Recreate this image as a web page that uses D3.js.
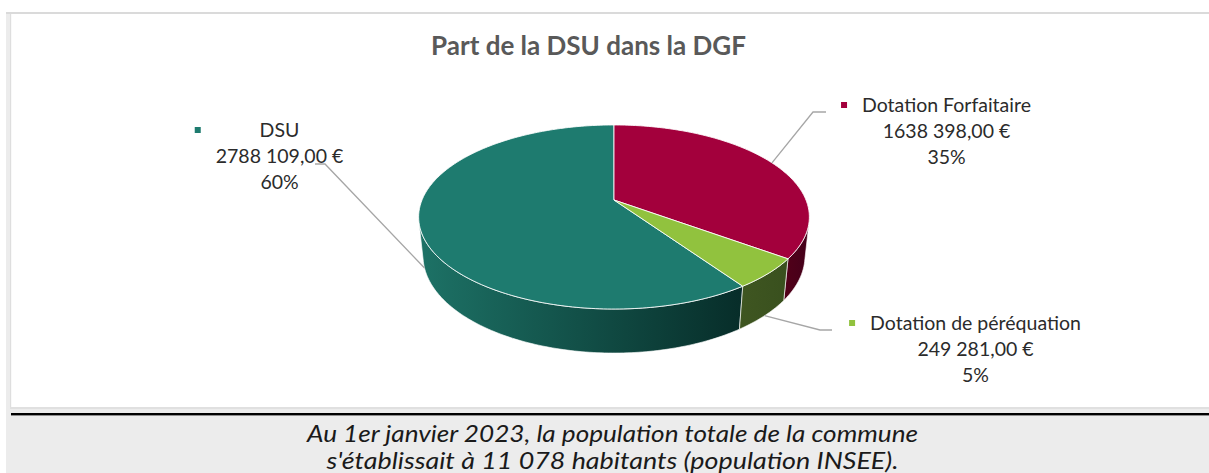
<!DOCTYPE html>
<html><head><meta charset="utf-8">
<script src="https://cdn.jsdelivr.net/npm/d3@7"></script>
<style>
html,body{margin:0;padding:0;background:#fff;}
svg{display:block;}
text{font-family:Lato,"Open Sans",sans-serif;}
</style></head><body>
<svg id="chart" width="1209" height="473"></svg>
<script>
// ---------- data ----------
const categories = ["DSU", "Dotation Forfaitaire", "Dotation de péréquation"];
const values = [2788109, 1638398, 249281];
const topColors = ["#1e7b6f", "#a3003c", "#91c23e"];
const sideColors = [["#1d7266", "#072d29"], ["#520019", "#44001a"], ["#3f5621", "#39501e"]];
const chartTitle = "Part de la DSU dans la DGF";
const noteLines = ["Au 1er janvier 2023, la population totale de la commune",
                   "s'établissait à 11 078 habitants (population INSEE)."];

// ---------- layout ----------
const W = 1209, H = 473;
const svg = d3.select("#chart");
const defs = svg.append("defs");

// backgrounds
svg.append("rect").attr("x", 6).attr("y", 12).attr("width", W - 6).attr("height", H - 12).attr("fill", "#ececec");
svg.append("rect").attr("x", 11).attr("y", 14).attr("width", W - 11).attr("height", 393).attr("fill", "#ffffff");
svg.append("rect").attr("x", 6).attr("y", 12).attr("width", W - 6).attr("height", 2).attr("fill", "#dadada");
svg.append("rect").attr("x", 10).attr("y", 14).attr("width", 1.2).attr("height", 394).attr("fill", "#dedede");
svg.append("rect").attr("x", 10).attr("y", 407).attr("width", W - 10).attr("height", 2).attr("fill", "#e0e0e0");
svg.append("rect").attr("x", 11).attr("y", 413).attr("width", W - 11).attr("height", 2.4).attr("fill", "#000000");

// title
svg.append("text").attr("x", 588.5).attr("y", 55).attr("text-anchor", "middle")
  .attr("font-size", 26).attr("font-weight", "bold").attr("fill", "#595959").text(chartTitle);

// ---------- 3D pie ----------
const total = d3.sum(values);
const start = 2 * Math.PI * (1 - values[0] / total);
const arcs = d3.pie().sort(null).value(d => d).startAngle(start).endAngle(start + 2 * Math.PI)(values);

const cx = 614, cy = 200, R = 192, D = 4.8, depth = 0.231;
const alpha = Math.asin(0.463), sa = Math.sin(alpha), ca = Math.cos(alpha);
function project(phi, r, z) {
  const x = r * Math.sin(phi), y = r * Math.cos(phi);
  const up = z * ca + y * sa, w = y * ca - z * sa;
  const s = D / (D + w);
  return [cx + R * x * s, cy - R * up * s];
}
const samples = (a, b, n) => d3.range(n + 1).map(i => a + (b - a) * i / n);
const line = d3.line();
const phiR = Math.acos(-1 / (D * ca));
function visibleRange(a, b) {
  for (const k of [-1, 0, 1, 2]) {
    const lo = Math.max(a, phiR + 2 * Math.PI * k), hi = Math.min(b, 2 * Math.PI - phiR + 2 * Math.PI * k);
    if (hi > lo) return [lo, hi];
  }
  return null;
}

// side gradients
sideColors.forEach((c, i) => {
  const g = defs.append("linearGradient").attr("id", "side" + i).attr("x1", 0).attr("x2", 1).attr("y1", 0).attr("y2", 0);
  g.append("stop").attr("offset", 0).attr("stop-color", c[0]);
  g.append("stop").attr("offset", 1).attr("stop-color", c[1]);
});

// sides
const gSide = svg.append("g");
arcs.forEach((a, i) => {
  const r = visibleRange(a.startAngle, a.endAngle);
  if (!r) return;
  const n = Math.max(4, Math.ceil((r[1] - r[0]) * 60));
  const angs = samples(r[0], r[1], n);
  const pts = angs.map(p => project(p, 1, 0)).concat(angs.slice().reverse().map(p => project(p, 1, -depth)));
  gSide.append("path").attr("d", line(pts) + "Z").attr("fill", "url(#side" + i + ")")
    .attr("stroke", "#ffffff").attr("stroke-width", 0.8).attr("stroke-opacity", 0.8);
});

// top face
const gTop = svg.append("g");
arcs.forEach((a, i) => {
  const n = Math.max(4, Math.ceil((a.endAngle - a.startAngle) * 60));
  const pts = [project(0, 0, 0)].concat(samples(a.startAngle, a.endAngle, n).map(p => project(p, 1, 0)));
  gTop.append("path").attr("d", line(pts) + "Z").attr("fill", topColors[i])
    .attr("stroke", "#ffffff").attr("stroke-width", 1).attr("stroke-opacity", 0.85).attr("stroke-linejoin", "round");
});

// ---------- labels ----------
const labelPos = [
  {x: 279.5, y: 137, elbow: [325, 164], tail: [315, 164]},
  {x: 946.5, y: 112, elbow: [813, 112], tail: [826, 112]},
  {x: 975.5, y: 330, elbow: [820, 330], tail: [832, 330]}
];
const fmtEuro = v => Math.floor(v / 1000) + " " + String(v % 1000).padStart(3, "0") + ",00 €";
const gLbl = svg.append("g");
arcs.forEach((a, i) => {
  const mid = (a.startAngle + a.endAngle) / 2;
  const front = Math.cos(mid) < -1 / (D * ca);
  const anchor = project(mid, 1, front ? -depth : 0);
  const lp = labelPos[i];
  gLbl.append("path").attr("d", line([anchor, lp.elbow, lp.tail]))
    .attr("fill", "none").attr("stroke", "#a6a6a6").attr("stroke-width", 1.3);
  const lines = [categories[i], fmtEuro(values[i]), Math.round(values[i] / total * 100) + "%"];
  let maxW = 0;
  lines.forEach((t, k) => {
    const tx = gLbl.append("text").attr("x", lp.x).attr("y", lp.y + k * 25.8).attr("text-anchor", "middle")
      .attr("font-size", 19.5).attr("fill", "#2b2b2b").text(t);
    maxW = Math.max(maxW, tx.node().getComputedTextLength());
  });
  gLbl.append("rect").attr("x", lp.x - maxW / 2 - 21).attr("y", lp.y - 10).attr("width", 6).attr("height", 6)
    .attr("fill", topColors[i]);
});

// ---------- note ----------
const noteWidths = [611, 572];
noteLines.forEach((t, k) => {
  svg.append("text").attr("x", 612.5).attr("y", 442 + k * 27).attr("text-anchor", "middle")
    .attr("font-size", 23).attr("font-style", "italic").attr("fill", "#1a1a1a")
    .attr("textLength", noteWidths[k]).attr("lengthAdjust", "spacingAndGlyphs").text(t);
});
</script>
</body></html>
